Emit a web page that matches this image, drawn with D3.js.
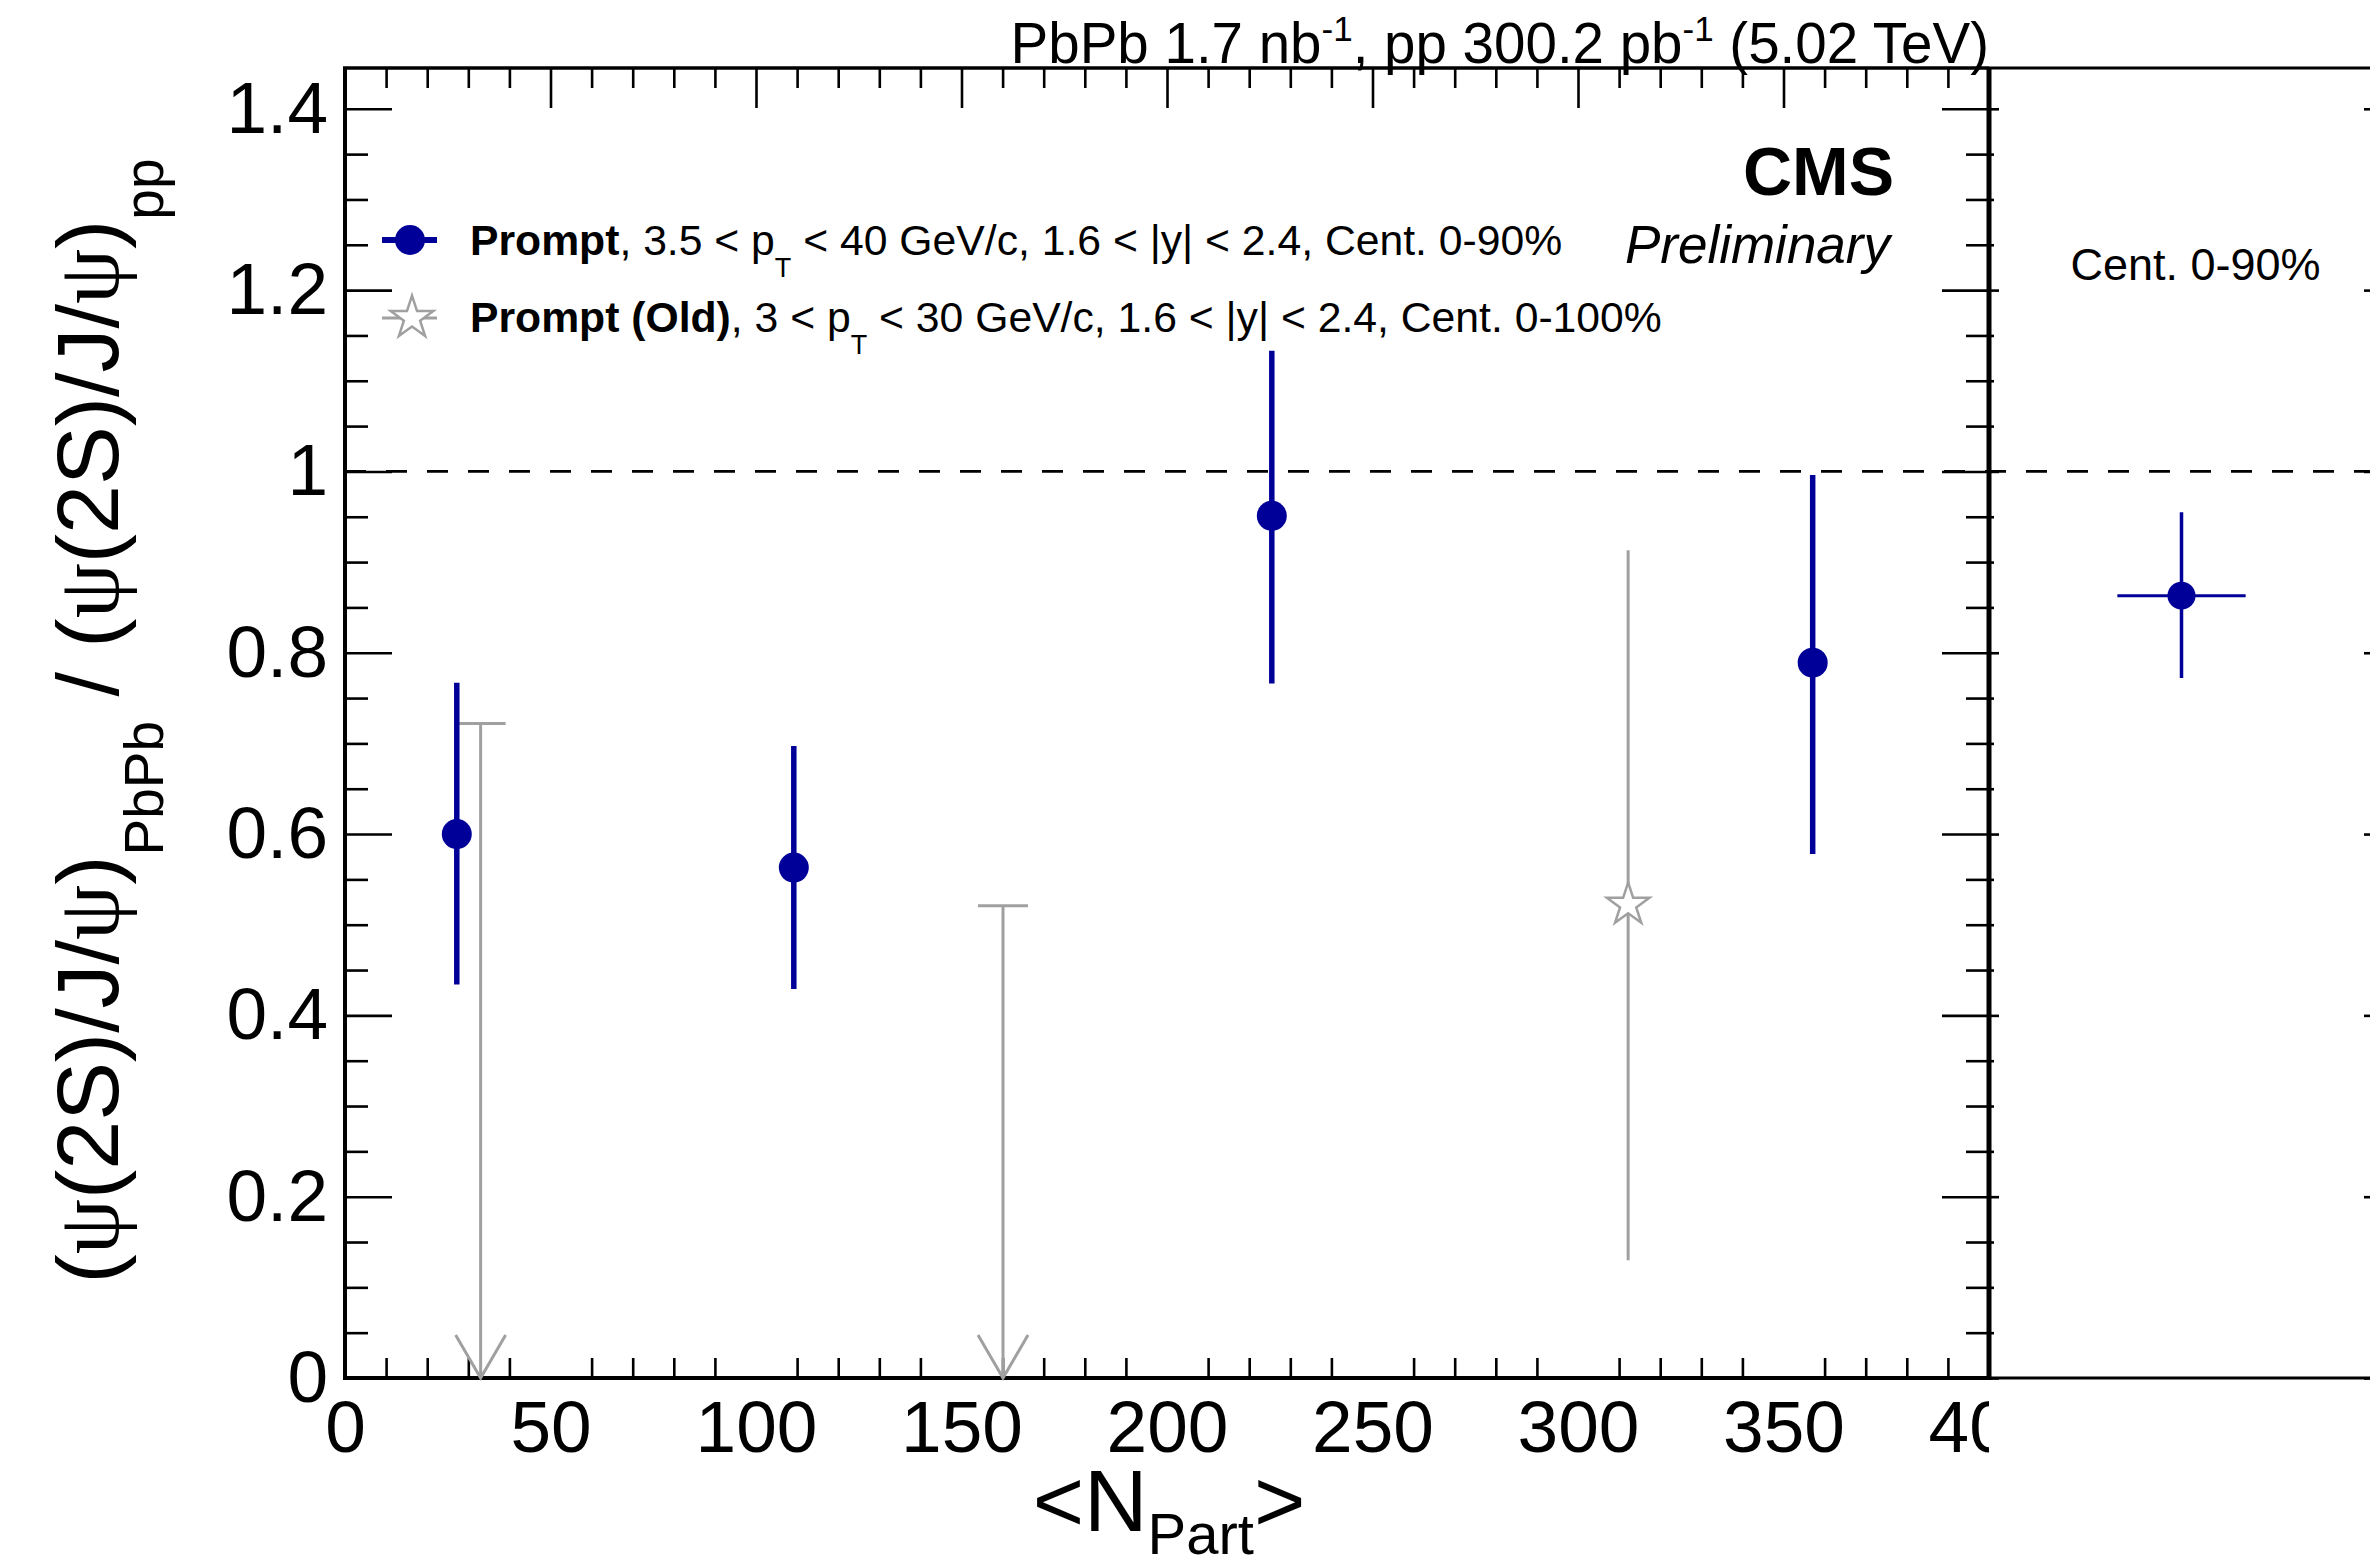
<!DOCTYPE html>
<html>
<head>
<meta charset="utf-8">
<script src="https://cdn.jsdelivr.net/npm/d3@7"></script>
<style>
  body { margin: 0; background: #fff; }
</style>
</head>
<body>
<div id="chart"></div>
<script>
// prompt psi(2S)/J/psi double ratio vs Npart (new result)
var npart = [27.2, 109.2, 225.5, 357.1]
var ratio = [0.600, 0.563, 0.951, 0.789]
var ratioLo = [0.434, 0.429, 0.766, 0.578]
var ratioHi = [0.767, 0.697, 1.133, 0.996]

// old result: two upper limits and one measured point
var npartOld = [33.0, 160.1, 312.2]
var limitOld = [0.722, 0.521, null]
var ratioOld = [null, null, 0.522]
var ratioOldLo = [null, null, 0.130]
var ratioOldHi = [null, null, 0.913]

// integrated, Cent. 0-90%
var intBin = [1.5]
var intBinErr = [0.5]
var intRatio = [0.863]
var intLo = [0.772]
var intHi = [0.955]

var xTicks = [0, 50, 100, 150, 200, 250, 300, 350, 400]
var xTickLabels = ['0', '50', '100', '150', '200', '250', '300', '350', '400']
var yTicks = [0, 0.2, 0.4, 0.6, 0.8, 1, 1.2, 1.4]
var yTickLabels = ['0', '0.2', '0.4', '0.6', '0.8', '1', '1.2', '1.4']

var width = 2370, height = 1567
var blue = '#000099', grey = '#a0a0a0'
var font = '"Liberation Sans", Arial, Helvetica, sans-serif'
var frame = {left: 345, right: 1989, top: 68, bottom: 1378, right2: 2374}

var svg = d3.select('#chart').append('svg')
    .attr('width', width).attr('height', height)
    .style('font-family', font)

var x = d3.scaleLinear().domain([0, 400]).range([frame.left, frame.right])
var y = d3.scaleLinear().domain([0, 1.445]).range([frame.bottom, frame.top])
var x2 = d3.scaleLinear().domain([0, 3]).range([frame.right, frame.right2])

var xMinor = d3.range(0, 401, 10).filter(function (d) { return d % 50 !== 0 })
var yMinor = d3.range(0, 29).map(function (i) { return +(i * 0.05).toFixed(2) })
    .filter(function (d) { return Math.round(d * 100) % 20 !== 0 })

svg.append('clipPath').attr('id', 'leftclip')
    .append('rect').attr('x', 0).attr('y', 0).attr('width', frame.right).attr('height', height)

function drawAxis(axis, tx, ty, size) {
    var g = svg.append('g')
        .attr('transform', 'translate(' + tx + ',' + ty + ')')
        .call(axis)
    g.select('.domain').remove()
    g.selectAll('.tick line').attr('stroke', '#000').attr('stroke-width', 2.6)
    g.attr('font-family', font).attr('font-size', size || 73)
    g.selectAll('.tick text').attr('fill', '#000')
    return g
}

// x axes (bottom with labels, top ticks only)
drawAxis(d3.axisBottom(x).tickValues(xTicks).tickSize(-40).tickPadding(22)
    .tickFormat(function (d, i) { return xTickLabels[i] }), 0, frame.bottom)
    .attr('clip-path', 'url(#leftclip)')
drawAxis(d3.axisBottom(x).tickValues(xMinor).tickSize(-20).tickFormat(''), 0, frame.bottom)
drawAxis(d3.axisTop(x).tickValues(xTicks).tickSize(-40).tickFormat(''), 0, frame.top)
drawAxis(d3.axisTop(x).tickValues(xMinor).tickSize(-20).tickFormat(''), 0, frame.top)

// y axes
drawAxis(d3.axisLeft(y).tickValues(yTicks).tickSize(-47).tickPadding(17)
    .tickFormat(function (d, i) { return yTickLabels[i] }), frame.left, 0)
drawAxis(d3.axisLeft(y).tickValues(yMinor).tickSize(-23).tickFormat(''), frame.left, 0)
drawAxis(d3.axisRight(y).tickValues(yTicks).tickSize(-47).tickFormat(''), frame.right, 0)
drawAxis(d3.axisRight(y).tickValues(yMinor).tickSize(-23).tickFormat(''), frame.right, 0)
// right pad ticks
drawAxis(d3.axisLeft(y).tickValues(yTicks).tickSize(-10).tickFormat(''), frame.right, 0)
drawAxis(d3.axisLeft(y).tickValues(yMinor).tickSize(-5).tickFormat(''), frame.right, 0)
drawAxis(d3.axisRight(y).tickValues(yTicks).tickSize(-10).tickFormat(''), frame.right2, 0)

// frame lines
var frameLines = [
    [frame.left, frame.top, frame.left, frame.bottom, 4],
    [frame.left - 2, frame.bottom, frame.right, frame.bottom, 4],
    [frame.left - 2, frame.top, frame.right, frame.top, 3.5],
    [frame.right, frame.top, frame.right, frame.bottom + 2, 5],
    [frame.right, frame.top, width, frame.top, 3],
    [frame.right, frame.bottom, width, frame.bottom, 3]
]
svg.selectAll('line.frame').data(frameLines).enter().append('line')
    .attr('class', 'frame')
    .attr('x1', function (d) { return d[0] }).attr('y1', function (d) { return d[1] })
    .attr('x2', function (d) { return d[2] }).attr('y2', function (d) { return d[3] })
    .attr('stroke', '#000').attr('stroke-width', function (d) { return d[4] })

// reference line at 1
svg.append('line')
    .attr('x1', x(0)).attr('x2', width)
    .attr('y1', y(1)).attr('y2', y(1))
    .attr('stroke', '#000').attr('stroke-width', 2.8)
    .attr('stroke-dasharray', '21,20')

// old points: upper limits
var oldIdx = d3.range(npartOld.length)
var limits = oldIdx.filter(function (i) { return limitOld[i] !== null })
var lim = svg.append('g').attr('stroke', grey).attr('stroke-width', 3).attr('fill', 'none')
lim.selectAll('line.cap').data(limits).enter().append('line')
    .attr('x1', function (i) { return x(npartOld[i]) - 25 })
    .attr('x2', function (i) { return x(npartOld[i]) + 25 })
    .attr('y1', function (i) { return y(limitOld[i]) })
    .attr('y2', function (i) { return y(limitOld[i]) })
lim.selectAll('line.stem').data(limits).enter().append('line')
    .attr('x1', function (i) { return x(npartOld[i]) })
    .attr('x2', function (i) { return x(npartOld[i]) })
    .attr('y1', function (i) { return y(limitOld[i]) })
    .attr('y2', y(0))
lim.selectAll('polyline').data(limits).enter().append('polyline')
    .attr('points', function (i) {
        var cx = x(npartOld[i]), b = y(0)
        return [[cx - 25, b - 43], [cx, b], [cx + 25, b - 43]].join(' ')
    })

// old measured point
var meas = oldIdx.filter(function (i) { return ratioOld[i] !== null })
svg.selectAll('line.olderr').data(meas).enter().append('line')
    .attr('x1', function (i) { return x(npartOld[i]) })
    .attr('x2', function (i) { return x(npartOld[i]) })
    .attr('y1', function (i) { return y(ratioOldLo[i]) })
    .attr('y2', function (i) { return y(ratioOldHi[i]) })
    .attr('stroke', grey).attr('stroke-width', 3)
var star = d3.symbol().type(d3.symbolStar).size(560)
svg.selectAll('path.star').data(meas).enter().append('path')
    .attr('d', star)
    .attr('transform', function (i) { return 'translate(' + x(npartOld[i]) + ',' + y(ratioOld[i]) + ')' })
    .attr('fill', '#fff').attr('stroke', grey).attr('stroke-width', 2.5)

// new points
var newIdx = d3.range(npart.length)
svg.selectAll('line.err').data(newIdx).enter().append('line')
    .attr('x1', function (i) { return x(npart[i]) })
    .attr('x2', function (i) { return x(npart[i]) })
    .attr('y1', function (i) { return y(ratioLo[i]) })
    .attr('y2', function (i) { return y(ratioHi[i]) })
    .attr('stroke', blue).attr('stroke-width', 5.5)
svg.selectAll('circle.pt').data(newIdx).enter().append('circle')
    .attr('cx', function (i) { return x(npart[i]) })
    .attr('cy', function (i) { return y(ratio[i]) })
    .attr('r', 15).attr('fill', blue)

// integrated point in the right pad
svg.append('line')
    .attr('x1', x2(intBin[0] - intBinErr[0])).attr('x2', x2(intBin[0] + intBinErr[0]))
    .attr('y1', y(intRatio[0])).attr('y2', y(intRatio[0]))
    .attr('stroke', blue).attr('stroke-width', 3)
svg.append('line')
    .attr('x1', x2(intBin[0])).attr('x2', x2(intBin[0]))
    .attr('y1', y(intLo[0])).attr('y2', y(intHi[0]))
    .attr('stroke', blue).attr('stroke-width', 3.5)
svg.append('circle')
    .attr('cx', x2(intBin[0])).attr('cy', y(intRatio[0]))
    .attr('r', 14).attr('fill', blue)
svg.append('text')
    .attr('x', x2(intBin[0]) + 14).attr('y', 280)
    .attr('text-anchor', 'middle').attr('font-size', 45)
    .text('Cent. 0-90%')

// legend
svg.append('line').attr('x1', 382).attr('x2', 437).attr('y1', 240).attr('y2', 240)
    .attr('stroke', blue).attr('stroke-width', 6)
svg.append('circle').attr('cx', 410).attr('cy', 240).attr('r', 15).attr('fill', blue)
svg.append('line').attr('x1', 382).attr('x2', 437).attr('y1', 318).attr('y2', 318)
    .attr('stroke', grey).attr('stroke-width', 3)
svg.append('path').attr('d', star).attr('transform', 'translate(412,318)')
    .attr('fill', '#fff').attr('stroke', grey).attr('stroke-width', 2.5)

function legendText(yy, bold, lead, tail) {
    var t = svg.append('text').attr('x', 470).attr('y', yy).attr('font-size', 42.7)
    t.append('tspan').attr('font-weight', 'bold').text(bold)
    t.append('tspan').text(lead)
    t.append('tspan').attr('font-size', 27).attr('dy', 22).text('T')
    t.append('tspan').attr('dy', -22).text(tail)
}
legendText(255, 'Prompt', ', 3.5 < p', ' < 40 GeV/c, 1.6 < |y| < 2.4, Cent. 0-90%')
legendText(332, 'Prompt (Old)', ', 3 < p', ' < 30 GeV/c, 1.6 < |y| < 2.4, Cent. 0-100%')

// CMS labels
svg.append('text').attr('x', 1894).attr('y', 195).attr('text-anchor', 'end')
    .attr('font-size', 68).attr('font-weight', 'bold').text('CMS')
svg.append('text').attr('x', 1890).attr('y', 263).attr('text-anchor', 'end')
    .attr('font-size', 53).attr('font-style', 'italic').text('Preliminary')

// lumi label
var lumi = svg.append('text').attr('x', frame.right).attr('y', 63)
    .attr('text-anchor', 'end').attr('font-size', 56.5)
lumi.append('tspan').text('PbPb 1.7 nb')
lumi.append('tspan').attr('font-size', 35).attr('dy', -22).text('-1')
lumi.append('tspan').attr('dy', 22).text(', pp 300.2 pb')
lumi.append('tspan').attr('font-size', 35).attr('dy', -22).text('-1')
lumi.append('tspan').attr('dy', 22).text(' (5.02 TeV)')

// x title
var xt = svg.append('text').attr('x', 1169).attr('y', 1531)
    .attr('text-anchor', 'middle').attr('font-size', 88)
xt.append('tspan').text('<N')
xt.append('tspan').attr('font-size', 58).attr('dy', 23).text('Part')
xt.append('tspan').attr('dy', -23).text('>')

// y title
var yt = svg.append('text')
    .attr('transform', 'translate(118,721) rotate(-90)')
    .attr('text-anchor', 'middle').attr('font-size', 88)
function ratioGroup(t) {
    t.append('tspan').text('(')
    t.append('tspan').attr('font-family', '"Liberation Serif", serif').text('ψ')
    t.append('tspan').text('(2S)/J/')
    t.append('tspan').attr('font-family', '"Liberation Serif", serif').text('ψ')
    t.append('tspan').text(')')
}
ratioGroup(yt)
yt.append('tspan').attr('font-size', 55).attr('dy', 45).text('PbPb')
yt.append('tspan').attr('dy', -45).text(' / ')
ratioGroup(yt)
yt.append('tspan').attr('font-size', 55).attr('dy', 45).text('pp')
</script>
</body>
</html>
